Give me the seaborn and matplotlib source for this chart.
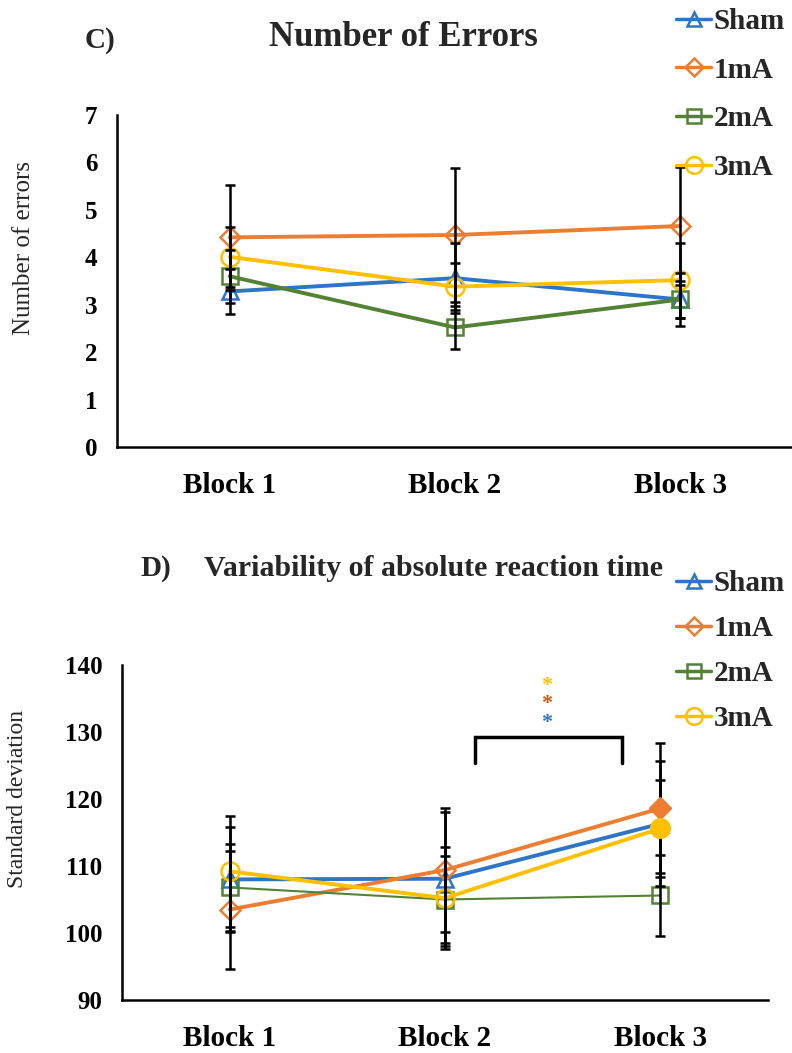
import matplotlib
matplotlib.use("Agg")
import matplotlib.pyplot as plt
import seaborn as sns
import numpy as np
from matplotlib.lines import Line2D

sns.set_style("white")
plt.rcParams['font.family'] = ['Liberation Serif', 'DejaVu Serif']

blocks = ["Block 1", "Block 2", "Block 3"]
groups = ["Sham", "1mA", "2mA", "3mA"]
colors = {"Sham": "#2E75C6", "1mA": "#ED7D31", "2mA": "#548235", "3mA": "#FFC000"}
markers = {"Sham": "^", "1mA": "D", "2mA": "s", "3mA": "o"}

# Panel C: number of errors (mean, SD)
err_mean = {
    "Sham": [3.28, 3.56, 3.11],
    "1mA": [4.42, 4.47, 4.66],
    "2mA": [3.60, 2.52, 3.11],
    "3mA": [4.01, 3.38, 3.52],
}
err_sd = {
    "Sham": [0.48, 0.74, 0.56],
    "1mA": [1.10, 1.42, 1.25],
    "2mA": [0.56, 0.45, 0.39],
    "3mA": [0.63, 0.50, 0.79],
}

# Panel D: variability of absolute reaction time (mean SD, error)
var_mean = {
    "Sham": [108.0, 108.1, 116.3],
    "1mA": [103.5, 109.4, 118.6],
    "2mA": [106.8, 105.0, 105.6],
    "3mA": [109.2, 105.2, 115.6],
}
var_sd = {
    "Sham": [7.8, 10.0, 9.3],
    "1mA": [8.8, 9.2, 9.7],
    "2mA": [6.5, 6.5, 6.0],
    "3mA": [8.3, 7.6, 7.3],
}
# filled (significant) points in panel D: group -> block index
filled_points = {"Sham": [2], "1mA": [2], "3mA": [2]}
star_colors = ["#FFC000", "#C55A11", "#2E75C6"]
star_y = [137.3, 134.5, 131.7]

msize = {"Sham": 11, "1mA": 10, "2mA": 11, "3mA": 13}

fig = plt.figure(figsize=(7.92, 10.53), dpi=100)
axC = fig.add_axes([117/792, 1-447/1053, (793-117)/792, (447-115)/1053])
axD = fig.add_axes([122/792, 1-1000/1053, (768-122)/792, (1000-665)/1053])

def draw(ax, means, sds, lws, filled=None):
    for g in groups:
        sns.lineplot(x=blocks, y=means[g], ax=ax, color=colors[g], lw=lws[g],
                     marker=markers[g], ms=msize[g], mfc="none", mec=colors[g],
                     mew=1.8, sort=False, legend=False, zorder=2)
    for g in groups:
        ax.errorbar(np.arange(3), means[g], yerr=sds[g], fmt="none", ecolor="black",
                    elinewidth=1.8, capsize=3.5, capthick=1.8, zorder=3)
    if filled:
        for g, idxs in filled.items():
            for i in idxs:
                ax.plot(i, means[g][i], marker=markers[g], ms=msize[g] + 1,
                        color=colors[g], mec=colors[g], ls="none", zorder=4)

def style(ax, ylim, yticks):
    ax.set_xlim(-0.5, 2.5)
    ax.set_ylim(*ylim)
    ax.set_yticks(yticks)
    for s in ["top", "right"]:
        ax.spines[s].set_visible(False)
    for s in ["left", "bottom"]:
        ax.spines[s].set_linewidth(1.8)
        ax.spines[s].set_color("black")
    ax.tick_params(axis="both", direction="in", length=5, width=1.6, colors="black")
    ax.tick_params(axis="y", labelsize=18, pad=14)
    ax.tick_params(axis="x", labelsize=21, pad=18)
    for lab in ax.get_xticklabels() + ax.get_yticklabels():
        lab.set_fontweight("bold")

draw(axC, err_mean, err_sd, {"Sham": 2.8, "1mA": 2.8, "2mA": 2.8, "3mA": 2.8})
style(axC, (0, 7), range(0, 8))
axC.set_ylabel("Number of errors", fontsize=18)
axC.yaxis.set_label_coords(-0.122, 0.6)

draw(axD, var_mean, var_sd, {"Sham": 2.8, "1mA": 2.8, "2mA": 1.5, "3mA": 2.8}, filled_points)
style(axD, (90, 140), range(90, 141, 10))
axD.set_ylabel("Standard deviation", fontsize=17)
axD.yaxis.set_label_coords(-0.146, 0.6)

# significance bracket and stars
axD.plot([1.14, 1.14, 1.82, 1.82], [125.3, 129.3, 129.3, 125.3], color="black", lw=2.5,
         solid_joinstyle="miter")
for yv, c in zip(star_y, star_colors):
    axD.text(1.47, yv, "*", color=c, fontsize=16, fontweight="bold", ha="center",
             va="center_baseline")

# titles
fig.text(100/792, 1-40/1053, "C)", fontsize=21, fontweight="bold", ha="center", va="center")
fig.text(403/792, 1-38/1053, "Number of Errors", fontsize=25, fontweight="bold",
         ha="center", va="center")
fig.text(156/792, 1-568/1053, "D)", fontsize=21, fontweight="bold", ha="center", va="center")
fig.text(434/792, 1-568/1053, "Variability of absolute reaction time", fontsize=21.5,
         fontweight="bold", ha="center", va="center")

# legends
def handles():
    return [Line2D([0], [0], color=colors[g], lw=2.5, marker=markers[g], ms=msize[g] - 1,
                   mfc="none", mec=colors[g], mew=1.8) for g in groups]

for ytop, sp in [(8/1053, 0.74), (570/1053, 0.62)]:
    leg = fig.legend(handles(), groups, loc="upper left", bbox_to_anchor=(676/792, 1-ytop),
                     frameon=False, fontsize=21, handlelength=1.2, handletextpad=0.1,
                     labelspacing=sp, borderpad=0, borderaxespad=0)
    for t in leg.get_texts():
        t.set_fontweight("bold")

fig.savefig("out.png", dpi=100)
